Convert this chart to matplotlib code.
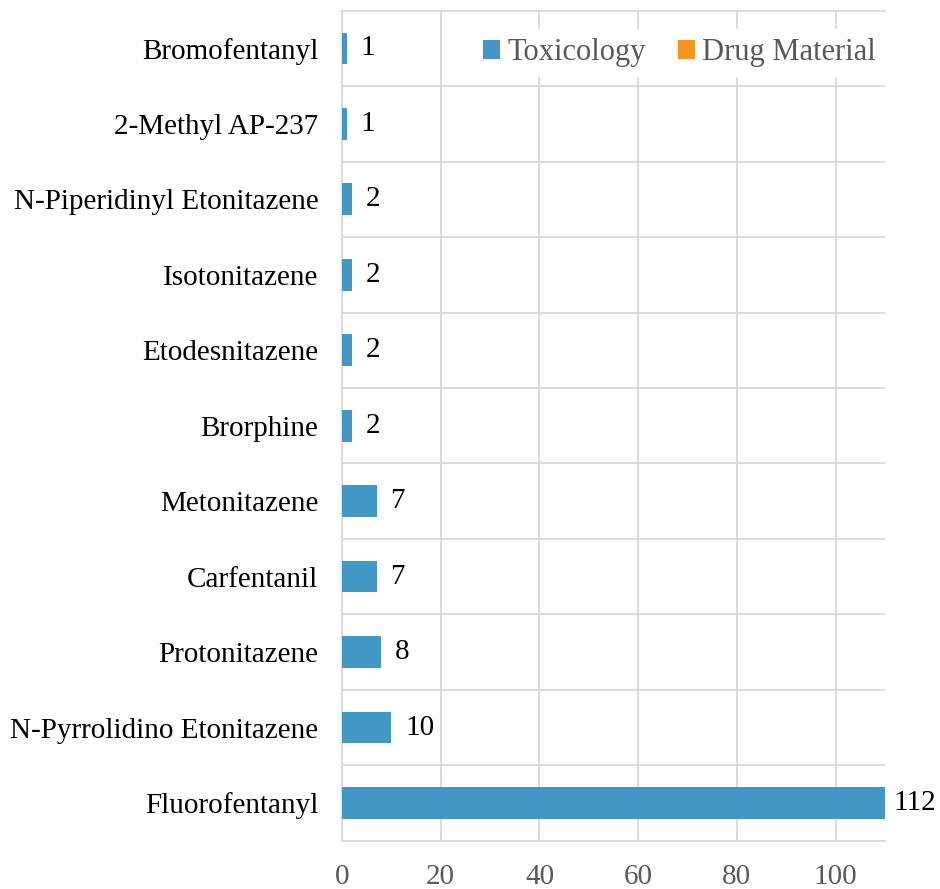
import matplotlib.pyplot as plt
import numpy as np

categories = ['Fluorofentanyl', 'N-Pyrrolidino Etonitazene', 'Protonitazene',
              'Carfentanil', 'Metonitazene', 'Brorphine', 'Etodesnitazene',
              'Isotonitazene', 'N-Piperidinyl Etonitazene', '2-Methyl AP-237',
              'Bromofentanyl']
toxicology = [112, 10, 8, 7, 7, 2, 2, 2, 2, 1, 1]
drug_material = [0, 0, 0, 0, 0, 0, 0, 0, 0, 0, 0]

plt.rcParams['font.family'] = ['Liberation Serif', 'DejaVu Serif']

fig = plt.figure(figsize=(9.4, 8.89), dpi=100)
ax = fig.add_axes([0.3638, 0.0543, 0.5777, 0.9337])

ind = np.arange(len(categories))
height = 0.42

bar1 = ax.barh(ind, toxicology, height, color='#4397c4', zorder=3)
bar2 = ax.barh(ind, drug_material, height, left=toxicology, color='#f7941d', zorder=3)

for i, v in enumerate(toxicology):
    off = 10 if v <= 110 else 6
    ax.annotate(str(v), (min(v, 110), i), xytext=(off, 0), textcoords='offset points',
                va='center', ha='left', fontsize=21, color='black', annotation_clip=False)

ax.set_xlim(0, 110)
ax.set_ylim(-0.5, len(categories) - 0.5)
ax.set_xticks(np.arange(0, 101, 20))
ax.set_yticks(ind)
ax.set_yticklabels(categories)
ax.set_yticks(ind[:-1] + 0.5, minor=True)

ax.tick_params(axis='x', length=0, pad=17, labelsize=21, labelcolor='#595959')
ax.tick_params(axis='y', which='both', length=0, pad=17, labelsize=21, labelcolor='black')

ax.grid(axis='x', color='#d9d9d9', lw=1.3, zorder=0)
ax.grid(axis='y', which='minor', color='#d9d9d9', lw=1.3, zorder=0)
for s in ax.spines.values():
    s.set_color('#d9d9d9')
    s.set_linewidth(1.3)
ax.spines['right'].set_visible(False)

leg = ax.legend((bar1, bar2), ('Toxicology', 'Drug Material'), loc='upper right',
                ncol=2, fontsize=22, frameon=True, fancybox=False, framealpha=1,
                edgecolor='none', handlelength=0.55, handleheight=0.55,
                handletextpad=0.25, columnspacing=1.05, borderaxespad=0.2,
                borderpad=0.3, bbox_to_anchor=(1.012, 0.985))
for t in leg.get_texts():
    t.set_color('#595959')

fig.savefig('out.png', dpi=100)
